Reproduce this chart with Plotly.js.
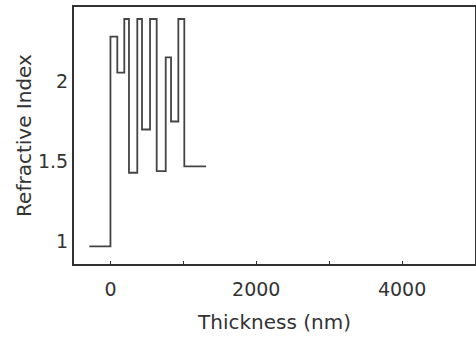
<!DOCTYPE html>
<html>
<head>
<meta charset="utf-8">
<script src="https://cdn.plot.ly/plotly-3.0.1.min.js"></script>
<style>
html,body{margin:0;padding:0;background:#fff;}
#chart{width:476px;height:338px;}
</style>
</head>
<body>
<div id="chart"></div>
<script>
// Layer boundaries (nm) and refractive index of the layer starting at each boundary
var thickness = [-290, 0, 94, 190, 254, 368, 433, 543, 634, 758, 831, 931, 1013, 1311];
var refractiveIndex = [0.97, 2.28, 2.055, 2.39, 1.43, 2.39, 1.70, 2.39, 1.44, 2.15, 1.75, 2.39, 1.47, 1.47];
var xTickVals = [0, 2000, 4000];
var yTickVals = [1, 1.5, 2];
var yTickText = ['1', '1.5', '2'];

var trace = {
  x: thickness,
  y: refractiveIndex,
  type: 'scatter',
  mode: 'lines',
  line: {shape: 'hv', color: '#444', width: 1.8},
  hoverinfo: 'skip'
};

var font = {family: 'DejaVu Sans, sans-serif', size: 19, color: '#333'};

var layout = {
  width: 476,
  height: 338,
  margin: {l: 74, r: 1, t: 7, b: 74},
  paper_bgcolor: '#fff',
  plot_bgcolor: '#fff',
  showlegend: false,
  font: font,
  xaxis: {
    range: [-500, 5000],
    tickvals: xTickVals,
    ticktext: xTickVals.map(String),
    ticks: 'inside',
    ticklen: 3,
    tickcolor: '#333',
    minor: {dtick: 1000, tick0: 0, ticks: 'inside', ticklen: 3, tickcolor: '#333'},
    showgrid: false,
    zeroline: false,
    showline: true,
    linecolor: '#333',
    linewidth: 2,
    mirror: true,
    tickfont: font,
    ticklabelstandoff: 7,
    title: {text: 'Thickness (nm)', font: {family: 'DejaVu Sans, sans-serif', size: 20, color: '#333'}, standoff: 16},
    automargin: false
  },
  yaxis: {
    range: [0.86, 2.465],
    tickvals: yTickVals,
    ticktext: yTickText,
    ticks: '',
    showgrid: false,
    zeroline: false,
    showline: true,
    linecolor: '#333',
    linewidth: 2,
    mirror: true,
    tickfont: font,
    ticklabelstandoff: 0,
    title: {text: 'Refractive Index', font: {family: 'DejaVu Sans, sans-serif', size: 20, color: '#333'}, standoff: 1},
    automargin: false
  }
};

Plotly.newPlot('chart', [trace], layout, {staticPlot: true, displayModeBar: false});
</script>
</body>
</html>
